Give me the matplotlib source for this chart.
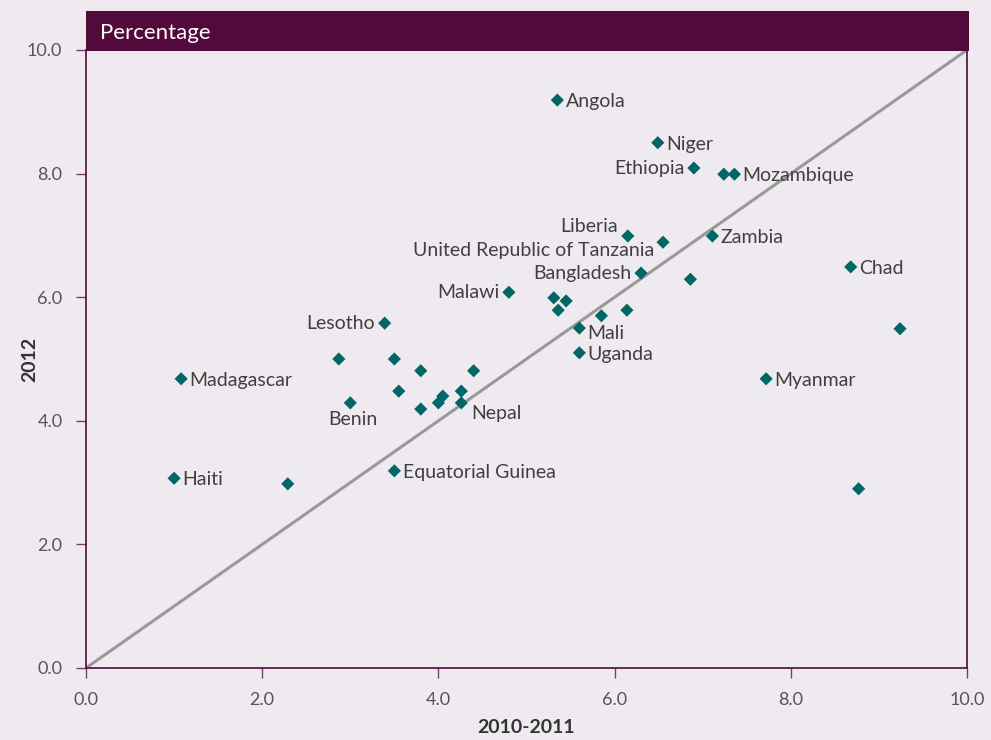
import numpy as np
import matplotlib
matplotlib.use('Agg')
import matplotlib.pyplot as plt
from matplotlib.patches import Rectangle

# data (2010-2011 vs 2012, percentage)
countries = ['Angola', 'Niger', 'Ethiopia', '', 'Mozambique', 'Liberia',
             'United Republic of Tanzania', 'Zambia', 'Bangladesh', '', 'Chad', '',
             'Malawi', '', '', '', '', '', 'Mali', 'Uganda', 'Lesotho',
             '', '', '', '', '', '', 'Benin', '', '', '', 'Nepal',
             'Madagascar', 'Haiti', '', 'Equatorial Guinea', 'Myanmar', '']
x_2011 = [5.35, 6.49, 6.90, 7.24, 7.36, 6.15,
          6.55, 7.11, 6.30, 6.86, 8.68, 9.24,
          4.80, 5.31, 5.45, 5.36, 5.85, 6.14, 5.60, 5.60, 3.39,
          2.87, 3.50, 3.80, 4.40, 3.55, 4.26, 3.00, 3.80, 4.00, 4.05, 4.26,
          1.08, 1.00, 2.29, 3.50, 7.72, 8.77]
y_2012 = [9.19, 8.50, 8.09, 7.99, 7.99, 6.99,
          6.89, 6.99, 6.39, 6.29, 6.49, 5.49,
          6.08, 5.99, 5.94, 5.79, 5.70, 5.79, 5.50, 5.10, 5.58,
          5.00, 5.00, 4.81, 4.81, 4.48, 4.48, 4.29, 4.19, 4.29, 4.40, 4.29,
          4.68, 3.07, 2.98, 3.19, 4.68, 2.90]

# label offsets in points (dx, dy, ha) - default is right of the marker
label_pos = {
    'Ethiopia': (-7, 0, 'right'),
    'Liberia': (-7, 7, 'right'),
    'United Republic of Tanzania': (-6, -6, 'right'),
    'Bangladesh': (-7, 0, 'right'),
    'Malawi': (-7, 0, 'right'),
    'Lesotho': (-7, 0, 'right'),
    'Benin': (2, -12, 'center'),
    'Nepal': (7, -8, 'left'),
    'Mali': (6, -4, 'left'),
}

bg = '#efeaef'
maroon = '#52093c'
teal = '#006666'

plt.rcParams['font.family'] = ['Lato', 'DejaVu Sans']

fig = plt.figure(figsize=(9.91, 7.4), dpi=100, facecolor=bg)
ax = fig.add_axes([86/991, 1-668/740, 881/991, 618/740])
ax.set_facecolor(bg)

# header bar
fig.add_artist(Rectangle((86/991, 1-51/740), 883/991, 40/740, transform=fig.transFigure,
                         facecolor=maroon, edgecolor='none', zorder=5))
fig.text(100/991, 1-33/740, 'Percentage', color='white', fontsize=16, va='center', ha='left', zorder=6)

ax.plot([0, 10], [0, 10], color='#999999', lw=2.2, zorder=2)
ax.scatter(x_2011, y_2012, marker='D', s=45, color=teal, edgecolors='none', zorder=3)

for name, xv, yv in zip(countries, x_2011, y_2012):
    if name == '':
        continue
    dx, dy, ha = label_pos.get(name, (6, -1, 'left'))
    ax.annotate(name, (xv, yv), xytext=(dx, dy), textcoords='offset points',
                ha=ha, va='center', fontsize=14, color='#404040')

ax.set_xlim(0, 10)
ax.set_ylim(0, 10)
ticks = np.arange(0, 10.1, 2)
ax.set_xticks(ticks)
ax.set_yticks(ticks)
ax.set_xticklabels(['%.1f' % t for t in ticks])
ax.set_yticklabels(['%.1f' % t for t in ticks])
ax.tick_params(axis='both', direction='out', length=7, width=1, color='#7a3a6a',
               labelsize=13, labelcolor='#555555')
ax.tick_params(axis='x', pad=10)
ax.tick_params(axis='y', pad=10)

for side in ['left', 'bottom', 'right']:
    ax.spines[side].set_color(maroon)
    ax.spines[side].set_linewidth(1.2)
ax.spines['top'].set_visible(False)

ax.set_xlabel('2010-2011', fontsize=14, fontweight='bold', color='#333333')
ax.set_ylabel('2012', fontsize=14, fontweight='bold', color='#333333')
ax.xaxis.set_label_coords(0.5, -51/618)
ax.yaxis.set_label_coords(-48/881, 0.5)

fig.savefig('out.png', dpi=100, facecolor=bg)
